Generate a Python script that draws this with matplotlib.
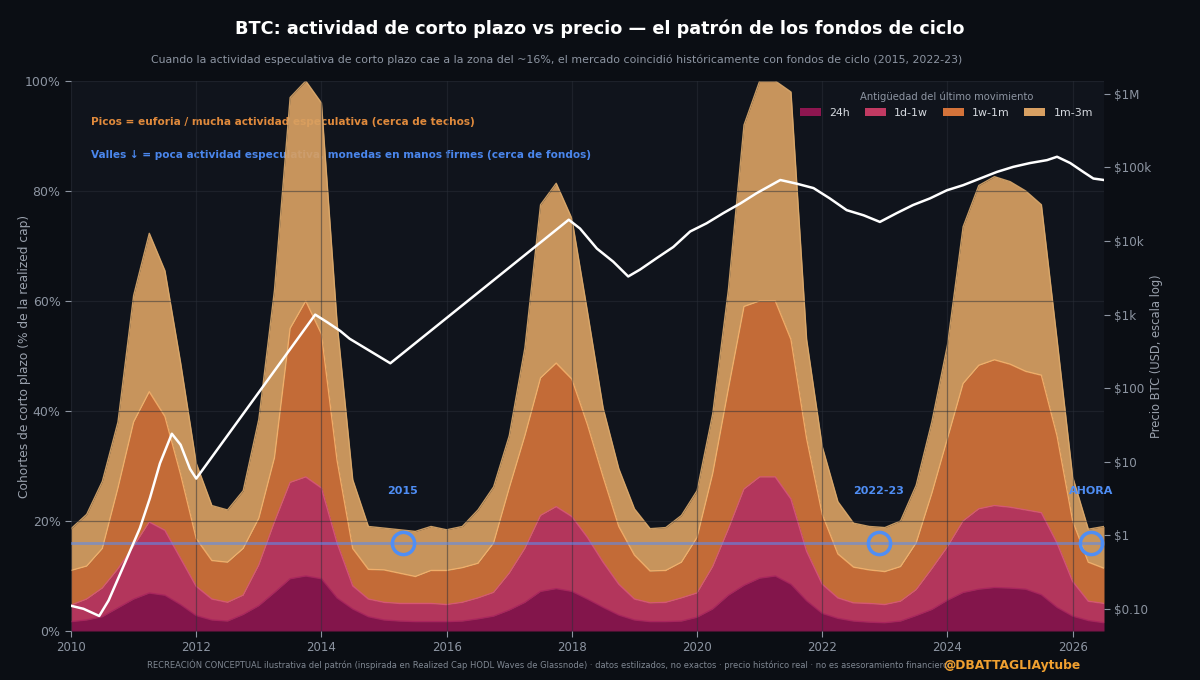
import numpy as np
import matplotlib.pyplot as plt
from matplotlib.patches import Patch
from matplotlib.ticker import NullLocator

# colors
BG = '#0b0e14'
AX_BG = '#10141c'
TXT = '#8d95a2'
BLUE = '#4f8ef5'

# quarterly dates 2010.00 ... 2026.50
years = np.arange(2010, 2026.51, 0.25)

# cumulative tops of each cohort (% of realized cap)
top_24h = [1.7, 2.0, 2.6, 4.2,
           5.8, 6.9, 6.5, 4.8,
           2.8, 2.0, 1.8, 3.0,
           4.6, 7.0, 9.5, 10.0,
           9.5, 6.0, 4.0, 2.6,
           2.0, 1.8, 1.7, 1.7,
           1.7, 1.8, 2.2, 2.7,
           3.8, 5.2, 7.2, 7.7,
           7.2, 5.8, 4.3, 2.9,
           2.0, 1.7, 1.7, 1.8,
           2.5, 4.0, 6.5, 8.3,
           9.6, 10.0, 8.5, 5.5,
           3.2, 2.3, 1.8, 1.6,
           1.5, 1.8, 2.8, 3.9,
           5.6, 7.0, 7.6, 7.9,
           7.8, 7.6, 6.6, 4.3,
           2.7, 1.9, 1.5]

top_1d1w = [4.7, 5.8, 7.8, 11.3,
            15.4, 19.8, 18.3, 13.2,
            8.1, 5.8, 5.2, 6.5,
            12.0, 19.8, 27.0, 28.0,
            26.0, 16.0, 8.2, 5.8,
            5.2, 5.0, 5.0, 5.0,
            4.8, 5.2, 6.0, 7.0,
            10.5, 15.0, 21.0, 22.6,
            20.8, 17.0, 12.5, 8.5,
            5.8, 5.1, 5.2, 6.0,
            6.9, 11.7, 18.5, 25.8,
            28.0, 28.0, 24.0, 14.5,
            8.5, 6.0, 5.1, 5.0,
            4.8, 5.4, 7.5, 11.3,
            15.3, 20.0, 22.2, 22.8,
            22.5, 22.0, 21.5, 16.0,
            9.0, 5.4, 5.0]

top_1w1m = [11.0, 11.8, 15.0, 26.0,
            38.0, 43.5, 39.0, 28.5,
            16.8, 12.8, 12.5, 15.0,
            20.5, 31.5, 55.0, 60.0,
            54.0, 31.0, 15.0, 11.2,
            11.1, 10.5, 9.9, 11.0,
            11.0, 11.5, 12.3, 16.0,
            26.0, 35.5, 46.0, 48.7,
            45.8, 37.5, 28.0, 19.0,
            13.8, 10.9, 11.0, 12.5,
            17.0, 28.6, 44.0, 59.0,
            60.0, 60.0, 53.0, 35.0,
            21.2, 14.0, 11.6, 11.1,
            10.8, 11.7, 16.0, 25.0,
            35.0, 45.0, 48.3, 49.3,
            48.5, 47.2, 46.5, 35.5,
            20.0, 12.5, 11.4]

top_1m3m = [18.6, 21.2, 27.2, 38.0,
            61.0, 72.3, 65.5, 48.8,
            30.5, 22.8, 22.0, 25.5,
            38.5, 62.0, 97.0, 100.0,
            96.0, 56.0, 27.5, 19.0,
            18.7, 18.4, 18.1, 19.0,
            18.4, 19.0, 22.0, 26.2,
            35.5, 51.5, 77.5, 81.4,
            75.0, 58.0, 40.5, 29.5,
            22.2, 18.6, 18.8, 21.0,
            25.5, 39.5, 62.0, 92.0,
            100.0, 100.0, 98.0, 53.0,
            33.5, 23.5, 19.6, 19.0,
            18.8, 20.0, 26.5, 38.0,
            52.0, 73.5, 81.0, 82.6,
            81.7, 80.0, 77.5, 53.0,
            28.0, 18.5, 19.0]

band_labels = ['24h', '1d-1w', '1w-1m', '1m-3m']
band_colors = ['#8e1650', '#c23a62', '#d4733a', '#d8a062']
edge_colors = ['#a8245e', '#d9567a', '#f6b26c', '#dcaa6c']

# BTC price (USD)
price_years = [2010.0, 2010.2, 2010.45, 2010.6, 2010.86, 2011.1, 2011.26, 2011.42,
               2011.61, 2011.75, 2011.9, 2012.0, 2013.9, 2014.1, 2014.3, 2014.45,
               2015.1, 2017.95, 2018.13, 2018.4, 2018.66, 2018.9, 2019.09, 2019.36,
               2019.62, 2019.89, 2020.15, 2020.42, 2020.69, 2020.95, 2021.33, 2021.59,
               2021.86, 2022.12, 2022.39, 2022.66, 2022.92, 2023.19, 2023.45, 2023.72,
               2023.99, 2024.25, 2024.52, 2024.79, 2025.05, 2025.32, 2025.59, 2025.75,
               2025.96, 2026.17, 2026.33, 2026.5]
price_usd = [0.11, 0.10, 0.08, 0.13, 0.42, 1.25, 3.2, 9.5,
             24, 17, 8, 5.9, 1000, 780, 600, 470,
             218, 19500, 14800, 7900, 5250, 3300, 4100, 5900,
             8300, 13500, 17400, 24000, 32400, 44700, 67600, 60300,
             52500, 38000, 26300, 22400, 18200, 24000, 30900, 38000,
             49000, 57500, 70800, 87100, 102000, 115000, 126000, 140000,
             115000, 87000, 70800, 67600]

# cycle-bottom markers
zone_level = 16
event_x = [2015.3, 2022.9, 2026.3]
event_labels = ['2015', '2022-23', 'AHORA']

price_ticks = [0.1, 1, 10, 100, 1e3, 1e4, 1e5, 1e6]
price_tick_labels = ['$0.10', '$1', '$10', '$100', '$1k', '$10k', '$100k', '$1M']

fig = plt.figure(figsize=(12, 6.8), dpi=100, facecolor=BG)
ax = fig.add_axes([0.0592, 0.0721, 0.8608, 0.8088])
ax.set_facecolor(AX_BG)

lower = np.zeros(len(years))
handles = []
for top, col, edge, lab in zip([top_24h, top_1d1w, top_1w1m, top_1m3m],
                               band_colors, edge_colors, band_labels):
    top = np.array(top)
    ax.fill_between(years, lower, top, color=col, alpha=0.92, lw=0, zorder=1)
    ax.plot(years, top, color=edge, lw=1.0, alpha=0.9, zorder=1.1)
    handles.append(Patch(facecolor=col, edgecolor='none', label=lab))
    lower = top

ax.set_axisbelow(False)
ax.grid(True, color='#2a2f38', alpha=0.5, lw=0.9)

ax.axhline(zone_level, color='#5b8cf0', alpha=0.6, lw=2, zorder=3)
ax.plot(event_x, [zone_level] * len(event_x), 'o', ms=16, mfc='none',
        mec=BLUE, mew=2.5, zorder=4)
for x, lab in zip(event_x, event_labels):
    ax.text(x, 25.5, lab, ha='center', va='center', color=BLUE,
            fontsize=8, fontweight='bold', zorder=5)

ax.text(0.019, 0.925, 'Picos = euforia / mucha actividad especulativa (cerca de techos)',
        transform=ax.transAxes, color='#e08a3c', fontsize=7.6, fontweight='bold',
        va='center', zorder=0.8)
ax.text(0.019, 0.865, 'Valles \u2193 = poca actividad especulativa, monedas en manos firmes (cerca de fondos)',
        transform=ax.transAxes, color='#4a86ec', fontsize=7.6, fontweight='bold',
        va='center', zorder=0.8)

ax.set_xlim(2010, 2026.5)
ax.set_ylim(0, 100)
ax.set_xticks(range(2010, 2027, 2))
ax.set_yticks(range(0, 101, 20))
ax.set_yticklabels([f'{v}%' for v in range(0, 101, 20)])
ax.set_ylabel('Cohortes de corto plazo (% de la realized cap)', color='#9aa1ad', fontsize=8.8)
ax.yaxis.set_label_coords(-0.039, 0.5)
ax.tick_params(colors=TXT, labelsize=8.5, length=4)
ax.tick_params(axis='y', labelsize=9)
for s in ax.spines.values():
    s.set_visible(False)

# price on log twin axis
ax2 = ax.twinx()
ax2.plot(price_years, price_usd, color='white', lw=1.8, zorder=3)
ax2.set_yscale('log')
ax2.set_ylim(0.05, 1.5e6)
ax2.set_yticks(price_ticks)
ax2.set_yticklabels(price_tick_labels)
ax2.yaxis.set_minor_locator(NullLocator())
ax2.set_ylabel('Precio BTC (USD, escala log)', color='#9aa1ad', fontsize=8.3)
ax2.yaxis.set_label_coords(1.0445, 0.5)
ax2.tick_params(colors=TXT, labelsize=8.6, length=4)
for s in ax2.spines.values():
    s.set_visible(False)

leg = ax2.legend(handles=handles, loc='upper right', ncol=4, frameon=False,
                 title='Antigüedad del último movimiento', fontsize=7.9,
                 title_fontsize=7.2, handlelength=1.9, handleheight=0.7,
                 columnspacing=1.35, handletextpad=0.75, borderaxespad=0.6)
leg.get_title().set_color(TXT)
for t in leg.get_texts():
    t.set_color('#d5d9df')

fig.text(0.5, 0.957, 'BTC: actividad de corto plazo vs precio \u2014 el patrón de los fondos de ciclo',
         ha='center', va='center', color='white', fontsize=12.7, fontweight='bold')
fig.text(0.464, 0.912, 'Cuando la actividad especulativa de corto plazo cae a la zona del ~16%, '
         'el mercado coincidió históricamente con fondos de ciclo (2015, 2022-23)',
         ha='center', va='center', color=TXT, fontsize=7.95)
fig.text(0.456, 0.022, 'RECREACIÓN CONCEPTUAL ilustrativa del patrón (inspirada en Realized Cap HODL '
         'Waves de Glassnode) · datos estilizados, no exactos · precio histórico real · '
         'no es asesoramiento financiero',
         ha='center', va='center', color='#7f8792', fontsize=6.0)
fig.text(0.9, 0.022, '@DBATTAGLIAytube', ha='right', va='center', color='#f0a030',
         fontsize=8.8, fontweight='bold')

fig.savefig('out.png', dpi=100, facecolor=BG)
